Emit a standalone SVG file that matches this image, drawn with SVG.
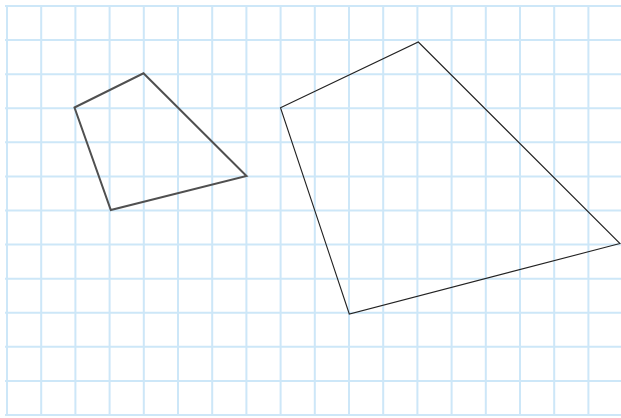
<svg xmlns="http://www.w3.org/2000/svg" width="621" height="418" viewBox="0 0 621 418">
<style>
.g{stroke:#cde7f8;stroke-width:2;fill:none}
.small{fill:none;stroke:#505050;stroke-width:2;stroke-linejoin:miter}
.big{fill:none;stroke:#222;stroke-width:1.1}
</style>
<rect width="621" height="418" fill="#fff"/>
<g id="grid">
<path class="g" d="M7,5V416M41.2,5V416M75.4,5V416M109.6,5V416M143.8,5V416M178,5V416M212.2,5V416M246.4,5V416M280.6,5V416M314.8,5V416M349,5V416M383.2,5V416M417.4,5V416M451.6,5V416M485.8,5V416M520,5V416M554.2,5V416M588.4,5V416"/>
<path class="g" d="M5,6H621M5,40.1H621M5,74.2H621M5,108.3H621M5,142.3H621M5,176.4H621M5,210.5H621M5,244.6H621M5,278.7H621M5,312.7H621M5,346.8H621M5,380.9H621M5,415H621"/>
</g>
<g id="smallQuad">
<polygon class="small" points="74.5,107.5 143.5,73.3 246.5,176 110.8,210"/>
</g>
<g id="bigQuad">
<polygon class="big" points="280.5,107.7 418.3,42 620,243.5 349.3,314"/>
</g>
</svg>
